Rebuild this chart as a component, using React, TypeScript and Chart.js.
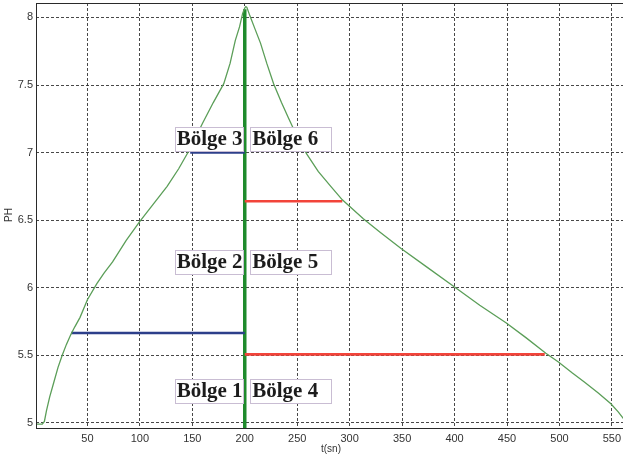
import { useEffect, useRef } from "react";
import { Chart, registerables } from "chart.js";

Chart.register(...registerables);

// pH curve: base added first (rise), then acid (fall) after t = 200 s
const timeSec = [
  1, 4, 7, 9, 11, 14, 18, 22, 26, 30, 34, 38, 43, 50, 59, 66, 74, 87, 100, 113,
  126, 137, 148, 160, 170, 180, 186, 191, 195, 198, 200, 201, 202, 205, 210, 215,
  221, 227.5, 235, 242, 248, 259, 270, 282, 293, 303, 313, 329, 349, 374, 399,
  424, 449, 468, 487, 499, 512, 524, 537, 549, 556, 561, 565,
];
const phValues = [
  4.99, 4.99, 4.99, 5.01, 5.09, 5.19, 5.3, 5.41, 5.5, 5.58, 5.65, 5.71, 5.78,
  5.91, 6.03, 6.11, 6.19, 6.35, 6.49, 6.62, 6.75, 6.88, 7.03, 7.22, 7.37, 7.51,
  7.66, 7.83, 7.93, 8.03, 8.07, 8.08, 8.075, 8.01, 7.91, 7.81, 7.66, 7.51, 7.37,
  7.25, 7.15, 6.99, 6.86, 6.75, 6.65, 6.58, 6.51, 6.41, 6.29, 6.15, 6.01, 5.87,
  5.74, 5.63, 5.515, 5.45, 5.37, 5.3, 5.22, 5.14, 5.08, 5.03, 4.99,
];

// switching instant
const switchTime = 200;
const switchPhTop = 8.06;

// zone borders on the rising side (blue) and the falling side (red)
const blueStart = [34.5, 148];
const blueEnd = [200, 200];
const bluePh = [5.664, 7.0];
const redStart = [200, 200];
const redEnd = [293, 486];
const redPh = [6.64, 5.506];

// zone captions and where their boxes are anchored (left edge t, centre pH)
const zoneNames = ["Bölge 1", "Bölge 2", "Bölge 3", "Bölge 4", "Bölge 5", "Bölge 6"];
const zoneTime = [133.2, 133.2, 133.2, 205.2, 205.2, 205.2];
const zonePh = [5.235, 6.19, 7.1, 5.235, 6.19, 7.1];

const xTicks = [50, 100, 150, 200, 250, 300, 350, 400, 450, 500, 550];
const yTicks = [5, 5.5, 6, 6.5, 7, 7.5, 8];

const X_MIN = 1;
const X_MAX = 572;
const Y_MIN = 4.961;
const Y_MAX = 8.107;

const segments = (starts: number[], ends: number[], levels: number[]) => {
  const pts: { x: number; y: number }[] = [];
  starts.forEach((s, i) => {
    pts.push({ x: s, y: levels[i] }, { x: ends[i], y: levels[i] });
    if (i < starts.length - 1) pts.push({ x: NaN, y: NaN });
  });
  return pts;
};

const overlay = {
  id: "overlay",
  afterDatasetsDraw(chart: any) {
    const { ctx, chartArea, scales } = chart;
    const xs = scales.x;
    const ys = scales.y;
    ctx.save();
    // plot frame
    ctx.strokeStyle = "#2a2a2a";
    ctx.lineWidth = 1;
    ctx.strokeRect(
      Math.round(chartArea.left) + 0.5,
      Math.round(chartArea.top) + 0.5,
      chartArea.right - chartArea.left,
      chartArea.bottom - chartArea.top
    );
    // zone caption boxes
    ctx.font = "bold 21px 'Liberation Serif', 'Times New Roman', serif";
    ctx.textBaseline = "middle";
    ctx.textAlign = "left";
    zoneNames.forEach((name, i) => {
      const left = xs.getPixelForValue(zoneTime[i]);
      const cy = ys.getPixelForValue(zonePh[i]);
      const w = i < 3 ? 68 : 81;
      const h = 24;
      ctx.fillStyle = "#ffffff";
      ctx.fillRect(left, cy - h / 2, w, h);
      ctx.strokeStyle = "#c9bdd3";
      ctx.lineWidth = 1;
      ctx.strokeRect(Math.round(left) + 0.5, Math.round(cy - h / 2) + 0.5, w, h);
      ctx.fillStyle = "#1c1c1c";
      ctx.fillText(name, left + 2, cy + 1);
    });
    // axis titles
    ctx.fillStyle = "#333333";
    ctx.font = "10px 'Liberation Sans', Arial, sans-serif";
    ctx.textAlign = "center";
    ctx.fillText("t(sn)", 331, 449);
    ctx.translate(9, 215);
    ctx.rotate(-Math.PI / 2);
    ctx.fillText("PH", 0, 0);
    ctx.restore();
  },
};

export default function App() {
  const canvasRef = useRef<HTMLCanvasElement | null>(null);

  useEffect(() => {
    const canvas = canvasRef.current;
    if (!canvas) return;
    const gridColor = "rgba(40,40,40,0.85)";
    const tickFont = { family: "'Liberation Sans', Arial, sans-serif", size: 11 };
    const chart = new Chart(canvas, {
      type: "scatter",
      data: {
        datasets: [
          {
            label: "pH",
            data: timeSec.map((t, i) => ({ x: t, y: phValues[i] })),
            showLine: true,
            borderColor: "#5b9e58",
            borderWidth: 1.3,
            pointRadius: 0,
            tension: 0,
          },
          {
            label: "blue",
            data: segments(blueStart, blueEnd, bluePh),
            showLine: true,
            spanGaps: false,
            borderColor: "#2d3f8a",
            borderWidth: 2.6,
            pointRadius: 0,
          },
          {
            label: "red",
            data: segments(redStart, redEnd, redPh),
            showLine: true,
            spanGaps: false,
            borderColor: "#f2443a",
            borderWidth: 2.6,
            pointRadius: 0,
          },
          {
            label: "switch",
            data: [
              { x: switchTime, y: Y_MIN },
              { x: switchTime, y: switchPhTop },
            ],
            showLine: true,
            borderColor: "#1f8b2c",
            borderWidth: 3.5,
            pointRadius: 0,
          },
        ],
      },
      options: {
        animation: false,
        responsive: false,
        layout: { padding: { top: 3, right: 5, left: 0, bottom: 0 } },
        plugins: { legend: { display: false }, tooltip: { enabled: false } },
        scales: {
          x: {
            type: "linear",
            min: X_MIN,
            max: X_MAX,
            afterBuildTicks: (s: any) => {
              s.ticks = xTicks.map((v) => ({ value: v }));
            },
            afterFit: (s: any) => {
              s.height = 33;
              s.paddingLeft = 0;
              s.paddingRight = 0;
            },
            grid: {
              color: gridColor,
              lineWidth: 1,
              drawTicks: false,
            },
            border: { display: false, dash: [3, 2] },
            ticks: {
              padding: 4,
              color: "#333333",
              font: tickFont,
              maxRotation: 0,
              autoSkip: false,
              callback: (v: any) => String(v),
            },
          },
          y: {
            type: "linear",
            min: Y_MIN,
            max: Y_MAX,
            afterBuildTicks: (s: any) => {
              s.ticks = yTicks.map((v) => ({ value: v }));
            },
            afterFit: (s: any) => {
              s.width = 36;
              s.paddingTop = 0;
              s.paddingBottom = 0;
            },
            grid: {
              color: gridColor,
              lineWidth: 1,
              drawTicks: false,
            },
            border: { display: false, dash: [3, 2] },
            ticks: {
              padding: 3,
              color: "#333333",
              font: tickFont,
              autoSkip: false,
              callback: (v: any) => String(v),
            },
          },
        },
      },
      plugins: [overlay],
    });
    return () => chart.destroy();
  }, []);

  return (
    <div
      style={{
        position: "fixed",
        left: 0,
        top: 0,
        width: 623,
        height: 461,
        overflow: "hidden",
        background: "#ffffff",
      }}
    >
      <canvas ref={canvasRef} width={640} height={461} style={{ display: "block" }} />
    </div>
  );
}
